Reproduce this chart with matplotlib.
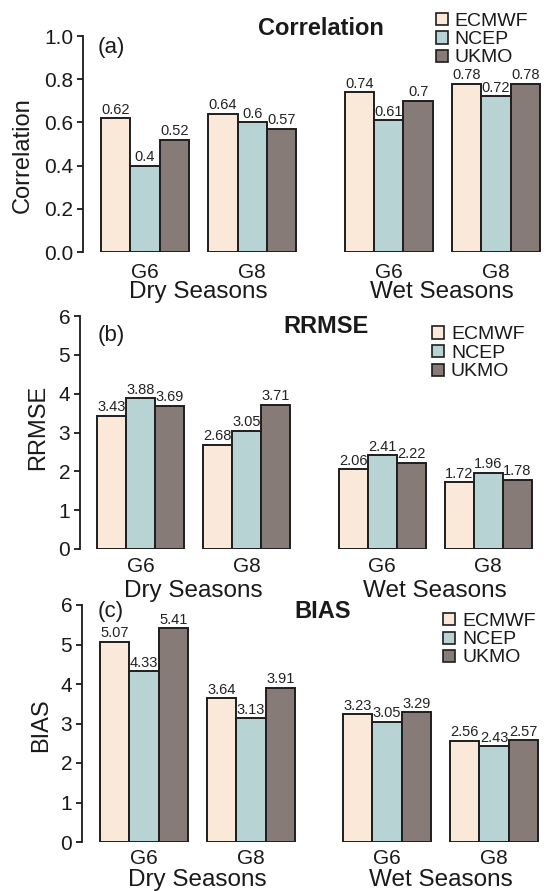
import matplotlib
matplotlib.use("Agg")
import matplotlib.pyplot as plt
from matplotlib.patches import Rectangle
import numpy as np

plt.rcParams['font.family'] = ['Liberation Sans', 'DejaVu Sans']

# ---------------- data ----------------
models = ["ECMWF", "NCEP", "UKMO"]
colors = ["#FAE8D8", "#B7D3D3", "#867B76"]
groups = ["G6", "G8", "G6", "G8"]
seasons = ["Dry Seasons", "Wet Seasons"]

corr_ecmwf = [0.62, 0.64, 0.74, 0.78]
corr_ncep = [0.40, 0.60, 0.61, 0.72]
corr_ukmo = [0.52, 0.57, 0.70, 0.78]
corr_labels = [["0.62", "0.64", "0.74", "0.78"],
               ["0.4", "0.6", "0.61", "0.72"],
               ["0.52", "0.57", "0.7", "0.78"]]

rrmse_ecmwf = [3.43, 2.68, 2.06, 1.72]
rrmse_ncep = [3.88, 3.05, 2.41, 1.96]
rrmse_ukmo = [3.69, 3.71, 2.22, 1.78]

bias_ecmwf = [5.07, 3.64, 3.23, 2.56]
bias_ncep = [4.33, 3.13, 3.05, 2.43]
bias_ukmo = [5.41, 3.91, 3.29, 2.57]

W, H = 546, 891
fig = plt.figure(figsize=(W / 100, H / 100), dpi=100)


def fx(x):
    return x / W


def fy(y):
    return 1 - y / H


# group start positions (in bar widths)
group_start = np.array([0.0, 3.65, 8.3, 11.95])
edge = "#1e1e1e"

panels = [
    dict(vals=[corr_ecmwf, corr_ncep, corr_ukmo], labels=corr_labels,
         ylim=(0, 1.0), yticks=np.arange(0, 1.01, 0.2), yfmt="{:.1f}",
         spine=83, top=36, bot=252, bar0=101, bar1=540,
         title="Correlation", title_xy=(321, 35), ylabel="Correlation", ylabel_xy=(23, 155),
         tag="(a)", tag_xy=(111, 48), leg_box=436, leg_text=454, leg_rows=(19, 37.5, 56),
         g_off=26, s_off=46),
    dict(vals=[rrmse_ecmwf, rrmse_ncep, rrmse_ukmo], labels=None,
         ylim=(0, 6), yticks=np.arange(0, 7, 1), yfmt="{:.0f}",
         spine=80, top=316, bot=549, bar0=97, bar1=532,
         title="RRMSE", title_xy=(326, 333), ylabel="RRMSE", ylabel_xy=(38, 427),
         tag="(b)", tag_xy=(111, 336), leg_box=432, leg_text=451, leg_rows=(332.5, 351, 370),
         g_off=23, s_off=48),
    dict(vals=[bias_ecmwf, bias_ncep, bias_ukmo], labels=None,
         ylim=(0, 6), yticks=np.arange(0, 7, 1), yfmt="{:.0f}",
         spine=82, top=605, bot=842, bar0=100, bar1=538,
         title="BIAS", title_xy=(323, 618), ylabel="BIAS", ylabel_xy=(41, 725),
         tag="(c)", tag_xy=(111, 611), leg_box=443, leg_text=462, leg_rows=(619, 637.5, 656),
         g_off=22, s_off=44),
]

for p in panels:
    unit = (p["bar1"] - p["bar0"]) / (group_start[-1] + 3)
    xl = -(p["bar0"] - p["spine"]) / unit
    xr = (W - p["bar0"]) / unit
    ax = fig.add_axes([fx(p["spine"]), fy(p["bot"]), fx(W - p["spine"]), (p["bot"] - p["top"]) / H])
    ax.set_xlim(xl, xr)
    ax.set_ylim(*p["ylim"])
    ax.patch.set_alpha(0)
    for k in range(3):
        xs = group_start + k + 0.5
        vals = p["vals"][k]
        ax.bar(xs, vals, width=1.0, color=colors[k], edgecolor=edge, linewidth=1.4, zorder=2)
        for i, (x, v) in enumerate(zip(xs, vals)):
            lab = p["labels"][k][i] if p["labels"] else "{:.2f}".format(v)
            ax.annotate(lab, (x, v), xytext=(0, 3.2), textcoords="offset points",
                        ha="center", va="baseline", fontsize=10.5, color="#222222", zorder=3)
    for s in ["top", "right", "bottom"]:
        ax.spines[s].set_visible(False)
    ax.spines["left"].set_linewidth(1.3)
    ax.spines["left"].set_color("#1a1a1a")
    ax.set_yticks(p["yticks"])
    ax.set_yticklabels([p["yfmt"].format(t) for t in p["yticks"]])
    ax.tick_params(axis="y", direction="out", length=4, width=1.3, pad=3, labelsize=15,
                   color="#1a1a1a", labelcolor="#1a1a1a")
    ax.set_xticks([])
    # group labels
    for i, g in enumerate(groups):
        ax.annotate(g, (group_start[i] + 1.5, 0), xycoords=("data", "axes fraction"),
                    xytext=(0, -p["g_off"] * 0.72), textcoords="offset points",
                    ha="center", va="baseline", fontsize=15, color="#1a1a1a")
    for j, sname in enumerate(seasons):
        cx = (group_start[2 * j] + group_start[2 * j + 1] + 3) / 2
        ax.annotate(sname, (cx, 0), xycoords=("data", "axes fraction"),
                    xytext=(0, -p["s_off"] * 0.72), textcoords="offset points",
                    ha="center", va="baseline", fontsize=17.5, color="#1a1a1a")
    fig.text(fx(p["title_xy"][0]), fy(p["title_xy"][1]), p["title"], ha="center", va="baseline",
             fontsize=17, fontweight="bold", color="#1a1a1a")
    fig.text(fx(p["ylabel_xy"][0]), fy(p["ylabel_xy"][1]), p["ylabel"], ha="center", va="center",
             rotation=90, fontsize=17, color="#1a1a1a")
    fig.text(fx(p["tag_xy"][0]), fy(p["tag_xy"][1]), p["tag"], ha="center", va="center",
             fontsize=16, color="#1a1a1a")
    for k, (m, c) in enumerate(zip(models, colors)):
        yc = p["leg_rows"][k]
        fig.patches.append(Rectangle((fx(p["leg_box"]), fy(yc + 6)), 12 / W, 12 / H,
                                     transform=fig.transFigure, facecolor=c, edgecolor=edge,
                                     linewidth=1.2))
        fig.text(fx(p["leg_text"]), fy(yc), m, ha="left", va="center_baseline",
                 fontsize=14, color="#1a1a1a")

fig.savefig("out.png", dpi=100)
